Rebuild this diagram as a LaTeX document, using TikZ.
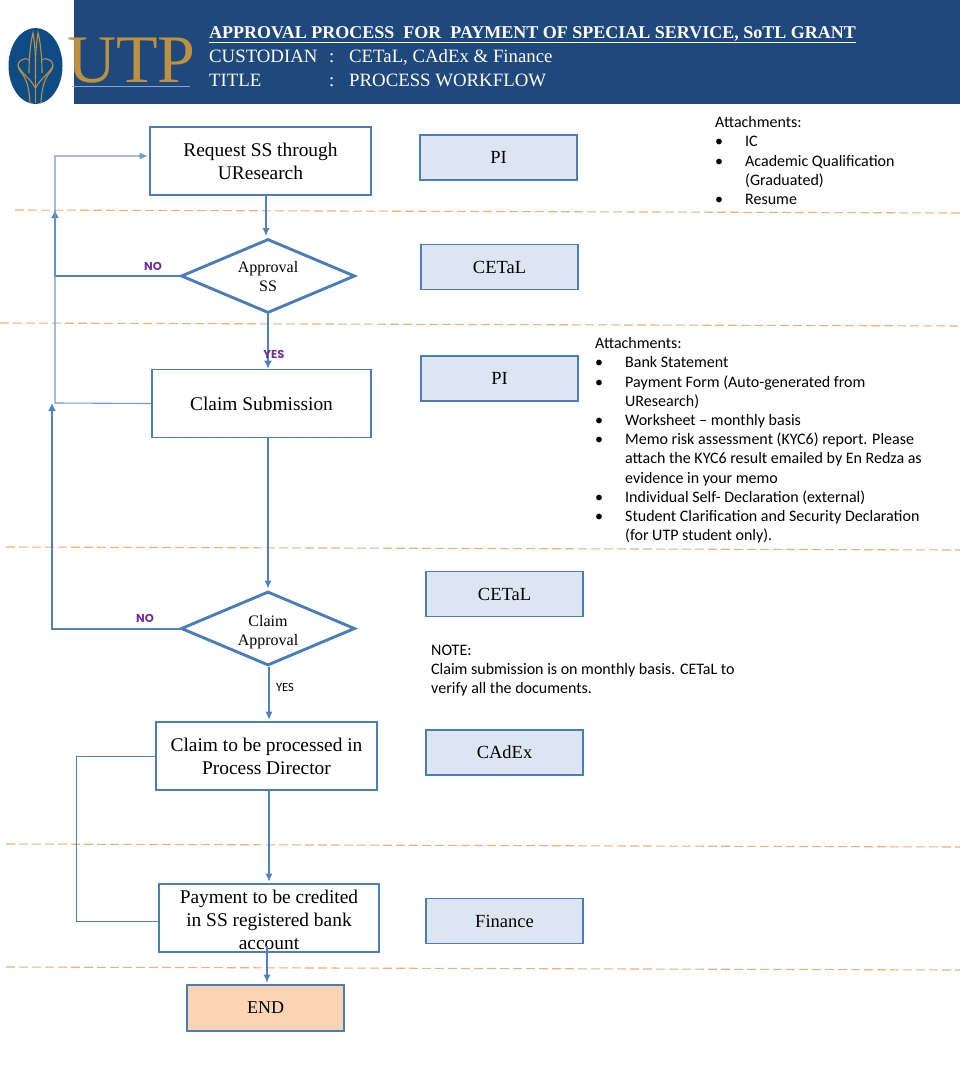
\documentclass[tikz,border=0pt]{standalone}
\usepackage{fontspec}
\setmainfont{Liberation Serif}
\newfontfamily\notefont{Carlito}
\newfontfamily\verdictfont{Poppins}
\usetikzlibrary{shapes.geometric,arrows.meta}
\definecolor{bandblue}{HTML}{1F497D}
\definecolor{logoblue}{HTML}{0F4C85}
\definecolor{logogold}{HTML}{BE9140}
\definecolor{lineblue}{HTML}{4F81BD}
\definecolor{boxblue}{HTML}{DCE6F2}
\definecolor{boxline}{HTML}{4A7EBB}
\definecolor{endfill}{HTML}{FCD5B5}
\definecolor{cutline}{HTML}{F0B078}
\definecolor{yesno}{HTML}{7030A0}
\begin{document}
\begin{tikzpicture}[x=1pt,y=-1pt]
\tikzstyle{stepbox} = [draw=boxline, line width=1.6pt, fill=white, align=center, font=\fontsize{19.4}{23}\selectfont, inner sep=0pt] % white process box
\tikzstyle{whobox} = [draw=boxline, line width=1.3pt, fill=boxblue, minimum width=157pt, minimum height=45pt, inner sep=0pt, font=\fontsize{18.5}{22}\selectfont] % who does the step
\tikzstyle{decision} = [diamond, aspect=2.35, draw=boxline, line width=2.9pt, fill=white, align=center, inner sep=0pt, minimum width=174pt, minimum height=74pt, font=\fontsize{16}{19}\selectfont] % decision node
\tikzstyle{flow} = [draw=lineblue, line width=1.1pt, shorten >=1.5pt, -{Latex[length=8pt,width=7pt]}] % thin connector
\tikzstyle{flowbold} = [draw=lineblue, line width=2.6pt, shorten >=0pt, -{Latex[length=8pt,width=8pt]}] % thick connector
\tikzstyle{cut} = [draw=cutline, line width=1.1pt, dash pattern=on 9pt off 4pt] % band separator
\tikzstyle{verdict} = [font=\verdictfont\bfseries\fontsize{11.5}{14}\selectfont, text=yesno, inner sep=0pt]
\tikzstyle{note} = [font=\notefont\fontsize{16}{19.2}\selectfont, inner sep=0pt, anchor=north west, align=left]
\useasboundingbox (0,0) rectangle (960,1092);
% header
\fill[white] (0,0) rectangle (960,1092);
\fill[bandblue] (74,0) rectangle (960,104);
\node[fill=logoblue, ellipse, minimum width=54pt, minimum height=76pt, inner sep=0pt] (logo) at (35.5,66) {};
\begin{scope}[draw=logogold, line width=1.1pt]
\draw (30,103) .. controls (29,85) and (26,78) .. (20,71) .. controls (14,62) and (24,56) .. (29,60);
\draw (41,103) .. controls (42,85) and (45,78) .. (51,71) .. controls (57,62) and (47,56) .. (42,60);
\draw (35.5,103) -- (35.5,78);
\draw (29,73) .. controls (29,55) and (31,40) .. (33,33) .. controls (35,45) and (36,60) .. (35.5,78);
\draw (42,73) .. controls (42,55) and (40,40) .. (38,33) .. controls (36,45) and (35,60) .. (35.5,78);
\draw (18,66) .. controls (24,76) and (30,78) .. (35.5,88) .. controls (41,78) and (47,76) .. (53,66);
\end{scope}
\node[text=logogold, inner sep=0pt, font=\fontsize{68}{68}\selectfont] (utp) at (131.5,61) {UTP};
\draw[draw=lineblue!70, line width=0.4pt] (72,86) -- (190,86);
\node[text=white, inner sep=0pt, anchor=west, font=\bfseries\fontsize{18}{22}\selectfont] (title) at (209,34.5) {\underline{APPROVAL PROCESS\ \ FOR\ \ PAYMENT OF SPECIAL SERVICE, SoTL GRANT}};
\node[text=white, inner sep=0pt, anchor=north west, font=\fontsize{18.8}{24}\selectfont] (custodian) at (209,45) {\begin{tabular}{@{}p{120pt}@{}p{20pt}@{}l@{}}CUSTODIAN & : & CETaL, CAdEx \& Finance\\TITLE & : & PROCESS WORKFLOW\end{tabular}};
% separators
\foreach \i/\xa/\ya in {1/15/210,2/0/323,3/6/547,4/6/844,5/6/967} {
  \coordinate (cutl\i) at (\xa,\ya);
  \coordinate (cutr\i) at (960,\ya+3);
  \draw[cut] (cutl\i) -- (cutr\i);
}
% process boxes
\node[stepbox, minimum width=221pt, minimum height=68pt] (request) at (260.5,161) {Request SS through\\UResearch};
\node[decision] (approval) at (268,276) {\rule{0pt}{13pt}Approval\\SS};
\node[stepbox, minimum width=219pt, minimum height=68pt] (claim) at (261.5,403.5) {Claim Submission};
\node[decision] (claimok) at (268,628.5) {\rule{0pt}{17.5pt}Claim\\Approval};
\node[stepbox, minimum width=221pt, minimum height=68pt] (process) at (266.5,756) {Claim to be processed in\\Process Director};
\node[stepbox, minimum width=220pt, minimum height=68pt] (payment) at (269,918) {\rule{0pt}{17pt}Payment to be credited\\in SS registered bank\\account};
\node[stepbox, fill=endfill, minimum width=157pt, minimum height=46pt, font=\fontsize{18}{22}\selectfont] (finish) at (265.5,1008) {END};
% who
\node[whobox] (who1) at (498.5,157.5) {PI};
\node[whobox] (who2) at (499.5,267) {CETaL};
\node[whobox] (who3) at (499.5,378.5) {PI};
\node[whobox] (who4) at (504.5,594) {CETaL};
\node[whobox] (who5) at (504.5,752.5) {CAdEx};
\node[whobox] (who6) at (504.5,921) {Finance};
% connectors
\coordinate (noup) at (55,210);
\coordinate (backleft) at (55,403);
\coordinate (noleft) at (52,403);
\coordinate (sideleft) at (76,756);
\coordinate (requestin) at ([yshift=5pt]request.west);
\coordinate (paymentin) at ([yshift=-3pt]payment.west);
\draw[flow] ([xshift=5.5pt]request.south) -- ([xshift=-2pt]approval.north);
\draw[flowbold] (approval.south) -- (approval.south |- claim.north);
\draw[flow] ([xshift=6.5pt]claim.south) -- (claimok.north);
\draw[flow] ([xshift=1pt]claimok.south) -- ([xshift=2.5pt]process.north);
\draw[flow] ([xshift=2.5pt]process.south) -- (payment.north);
\draw[flow] ([xshift=-2pt,yshift=7pt]payment.south) -- ([xshift=1.5pt]finish.north);
\draw[flowbold] (approval.west) -- (noup |- approval.west) -- (noup);
\draw[flow, draw=lineblue!80] (claim.west) -- (backleft) -- (backleft |- requestin) -- (requestin);
\draw[flowbold, line width=2pt] (claimok.west) -- (noleft |- claimok.west) -- (noleft);
\draw[draw=lineblue, line width=0.9pt] (process.west) -- (sideleft) -- (sideleft |- paymentin) -- (paymentin);
% yes no
\node[verdict] (no1) at (153,266) {NO};
\node[verdict] (yes1) at (274,354) {YES};
\node[verdict] (no2) at (145,618) {NO};
\node[note, font=\notefont\fontsize{12.5}{14}\selectfont, anchor=center] (yes2) at (285,687) {YES};
% notes
\node[note] (attach1) at (715,114) {\begin{tabular}{@{}p{30pt}@{}l@{}}
\multicolumn{2}{@{}l@{}}{Attachments:}\\
\textbullet & IC\\
\textbullet & Academic Qualification\\
 & (Graduated)\\
\textbullet & Resume
\end{tabular}};
\node[note] (attach2) at (595,335) {\begin{tabular}{@{}p{30pt}@{}l@{}}
\multicolumn{2}{@{}l@{}}{Attachments:}\\
\textbullet & Bank Statement\\
\textbullet & Payment Form (Auto-generated from\\
 & UResearch)\\
\textbullet & Worksheet – monthly basis\\
\textbullet & Memo risk assessment (KYC6) report. Please\\
 & attach the KYC6 result emailed by En Redza as\\
 & evidence in your memo\\
\textbullet & Individual Self- Declaration (external)\\
\textbullet & Student Clarification and Security Declaration\\
 & (for UTP student only).
\end{tabular}};
\node[note] (remark) at (431,645) {NOTE:\\Claim submission is on monthly basis. CETaL to\\verify all the documents.};
\end{tikzpicture}
\end{document}
